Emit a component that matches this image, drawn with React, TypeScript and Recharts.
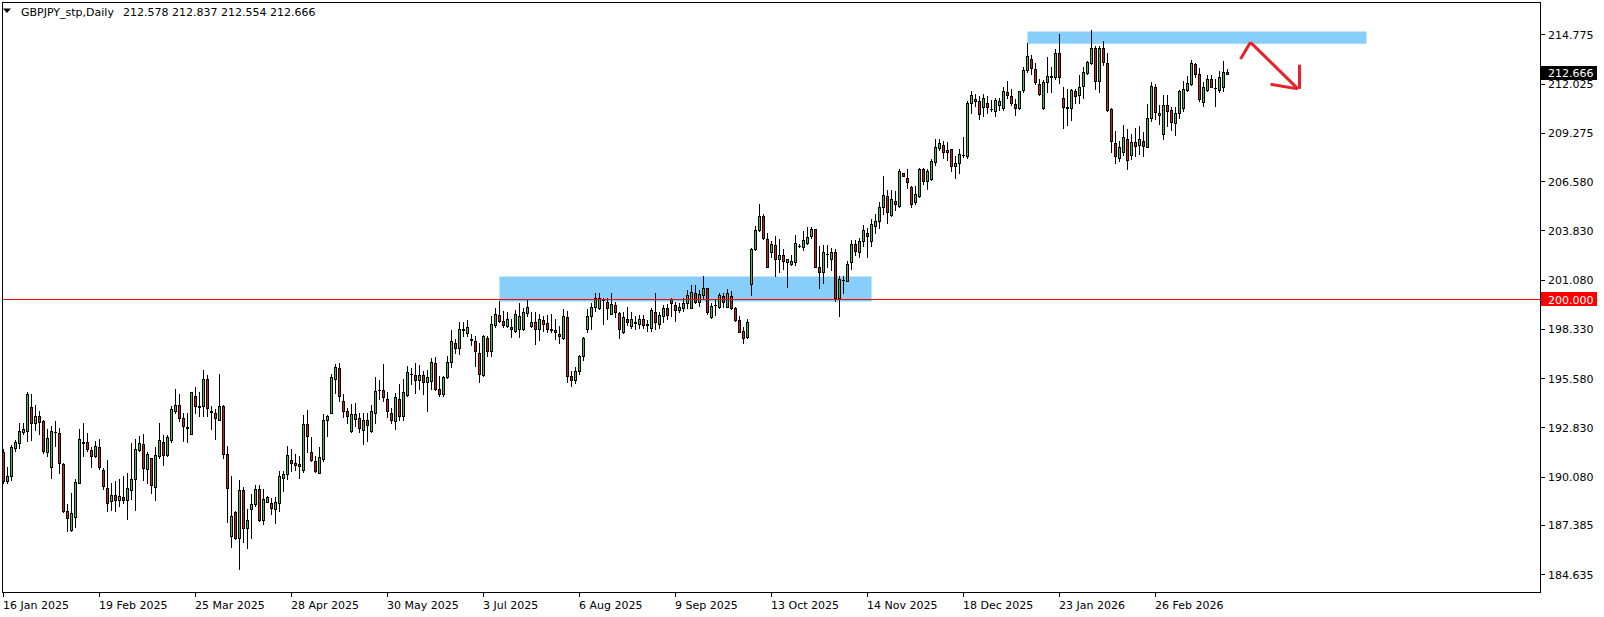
import React from 'react';
import { ComposedChart, Bar, XAxis, YAxis, ReferenceLine, ReferenceArea } from 'recharts';

const SYMBOL = 'GBPJPY_stp,Daily';

const OPEN = [
191.46,189.84,190.12,191.69,191.98,192.58,192.64,193.99,193.05,193.44,193.21,191.48,190.63,192.60,192.54,190.81,188.17,187.11,187.85,189.75,
191.97,192.04,191.56,191.24,191.76,190.44,189.43,188.71,189.03,188.75,188.93,188.75,189.34,189.94,191.56,191.93,190.53,191.10,189.53,191.21,
192.04,191.30,192.14,193.76,194.07,193.33,192.83,192.49,194.56,193.98,194.00,195.51,193.72,193.66,193.25,194.00,191.34,186.78,188.08,186.68,
189.33,187.24,188.30,188.58,189.38,187.67,188.69,188.60,188.30,188.60,190.03,190.22,191.00,190.82,190.78,190.46,193.01,191.48,190.93,190.31,
191.09,193.25,193.66,195.56,196.17,194.31,193.72,192.64,193.29,193.38,192.69,193.27,192.64,193.61,194.91,194.93,194.44,193.61,193.20,194.44,
193.48,194.63,195.83,195.74,195.47,195.74,195.34,195.40,196.40,194.97,194.69,195.66,196.51,197.52,197.24,198.26,198.09,197.76,197.65,197.01,
195.77,197.85,197.07,198.54,199.10,198.78,198.50,198.45,198.22,198.35,198.32,199.21,198.50,198.69,198.32,198.84,198.65,198.35,198.28,198.07,
197.85,198.97,195.71,195.45,196.00,196.80,198.31,199.06,199.56,199.52,199.93,199.86,199.19,199.65,199.21,198.13,198.91,198.50,198.68,198.59,
198.87,198.63,198.37,199.30,198.63,199.06,199.47,199.99,199.66,199.40,199.52,199.77,199.52,200.36,199.86,200.23,200.59,199.00,199.65,199.53,
200.14,199.58,200.14,199.49,198.85,198.22,197.89,200.83,202.78,203.88,204.61,203.34,202.60,203.00,202.22,202.45,202.04,201.94,202.04,202.96,
202.88,203.10,203.53,203.90,201.81,201.48,202.50,202.22,202.60,200.03,201.04,201.01,202.04,203.06,202.65,203.25,203.71,203.25,204.09,204.33,
205.11,205.76,204.70,205.48,205.20,207.01,206.78,206.28,205.39,205.76,207.25,206.60,206.69,207.66,208.42,208.59,208.31,208.37,207.43,207.62,
208.04,207.99,210.92,211.19,211.06,210.73,210.97,210.62,210.51,210.84,210.69,211.53,211.31,210.88,210.64,211.68,212.78,213.39,212.83,212.03,
210.64,212.09,212.42,212.37,213.71,211.25,210.73,210.69,211.62,211.38,211.90,212.61,213.15,214.04,212.18,214.01,213.20,210.60,208.70,207.90,
208.22,208.96,208.05,208.74,208.59,208.83,208.51,210.13,211.86,210.28,209.20,210.82,210.54,209.85,210.36,210.65,211.68,212.03,213.11,212.55,
211.01,211.68,212.31,211.78,211.68,211.81,212.578
];

const HIGH = [
191.61,190.64,191.84,192.11,193.06,193.05,194.78,194.68,194.07,193.75,193.25,192.73,192.91,193.21,192.78,190.85,188.54,189.19,189.94,192.73,
193.06,192.54,191.71,192.08,192.17,190.59,191.02,189.75,189.83,189.94,190.12,190.31,191.98,192.17,192.36,192.45,191.43,191.12,191.71,193.10,
192.40,192.40,194.04,194.97,194.72,193.61,193.61,194.80,195.06,194.78,196.03,195.75,194.04,193.85,195.80,194.07,191.80,190.09,188.17,189.89,
189.48,188.27,189.10,189.61,189.61,189.38,189.01,188.88,188.92,190.41,190.41,191.80,191.61,191.34,191.24,193.51,193.79,192.32,191.24,191.71,
193.57,193.51,195.84,196.36,196.45,194.69,193.89,194.13,194.22,193.63,193.66,193.63,194.07,195.62,195.47,196.36,194.78,193.89,194.74,195.24,
195.52,196.27,196.17,196.45,196.30,195.99,196.03,196.70,196.77,195.71,195.70,196.83,198.26,197.76,198.69,198.69,198.82,198.07,197.94,197.57,
197.98,197.91,199.06,199.47,199.90,199.34,199.25,198.87,199.40,199.77,199.47,199.99,199.28,199.28,199.15,199.06,199.10,199.15,198.91,198.50,
199.43,199.34,196.00,196.20,196.90,197.90,199.43,199.80,200.32,200.31,200.08,200.03,200.31,199.84,199.28,199.25,199.58,199.25,199.06,199.12,
199.12,198.84,199.47,200.33,199.25,199.66,199.71,200.08,199.84,199.80,200.08,200.51,200.77,200.77,200.51,201.29,200.64,199.80,199.93,200.31,
200.31,200.55,200.42,199.53,199.06,198.41,198.87,202.82,204.09,205.33,204.74,203.71,203.25,203.53,203.34,202.78,202.26,202.45,203.56,203.06,
203.81,204.03,204.03,203.92,202.97,203.00,203.00,202.82,202.78,201.29,201.29,202.13,203.28,203.28,203.43,204.12,203.94,204.46,204.77,205.42,
206.84,206.08,206.08,206.04,207.25,207.06,207.25,206.32,206.32,207.31,207.34,207.25,207.81,208.96,208.92,208.83,208.77,208.40,207.99,208.37,
209.02,211.06,211.62,211.44,211.34,211.47,211.34,211.10,211.21,211.25,211.81,212.15,211.75,211.16,211.62,212.96,214.29,213.63,213.15,212.27,
212.22,213.52,212.98,213.95,214.82,211.81,211.75,211.75,211.72,212.50,212.96,213.30,215.01,214.14,214.14,214.38,213.71,210.64,209.39,208.83,
209.71,209.48,209.20,209.52,209.67,209.33,210.88,212.09,212.00,210.82,211.38,211.38,210.73,210.73,211.66,212.18,212.46,213.33,213.20,212.87,
212.09,212.50,212.50,212.31,212.74,213.30,212.837
];

const LOW = [
189.71,189.71,189.88,191.52,191.69,192.45,192.08,192.11,192.69,192.49,191.41,191.24,189.99,191.80,190.31,188.08,187.05,187.05,187.28,189.71,
191.24,191.52,190.63,191.20,190.50,189.38,188.17,188.21,188.15,188.45,188.60,187.69,188.86,188.24,191.52,189.90,189.70,189.16,188.79,191.10,
190.74,191.24,192.04,193.61,193.20,192.08,192.04,192.45,193.64,193.48,193.48,193.48,192.73,192.21,193.25,191.11,187.56,186.13,186.59,184.95,
186.41,186.07,186.63,188.42,187.58,187.43,188.65,188.02,187.52,188.17,189.29,189.94,190.41,190.44,190.03,190.35,191.47,190.96,190.33,190.28,
190.96,192.36,193.63,194.74,194.28,193.42,193.05,192.60,192.92,192.58,191.89,192.08,192.60,193.07,194.41,194.28,193.42,193.07,192.73,193.25,
193.25,194.59,195.24,194.74,194.97,194.72,193.75,194.97,194.90,194.60,194.60,195.60,196.18,196.98,196.92,197.94,197.94,197.44,196.27,195.38,
195.71,196.83,196.79,198.45,198.72,198.45,198.41,197.89,198.17,197.89,198.26,199.06,198.45,197.48,197.70,198.22,198.13,198.17,197.76,197.57,
197.76,195.34,195.15,195.30,195.80,196.60,198.13,198.35,199.34,199.43,198.59,198.87,199.15,198.97,197.85,198.10,198.54,198.37,198.32,198.37,
198.37,198.22,198.22,198.35,198.37,198.69,198.87,199.06,198.78,199.28,199.34,199.52,199.47,199.80,199.62,199.99,199.15,198.93,199.12,199.47,
199.58,199.53,199.43,198.78,198.13,197.57,197.85,200.23,202.73,203.77,203.34,201.76,202.32,201.29,201.52,201.67,200.68,201.89,201.89,202.88,
202.73,203.06,203.43,201.76,200.59,200.92,201.76,201.61,199.90,199.06,200.33,200.98,201.67,202.45,202.35,202.97,202.35,202.97,203.71,203.99,
204.74,204.27,204.66,204.98,205.16,206.84,206.17,205.15,205.30,205.72,206.41,206.13,206.65,207.47,208.31,207.90,207.75,207.16,206.78,207.06,
207.94,207.90,210.41,210.78,210.04,210.23,210.41,210.47,210.23,210.54,210.54,211.25,210.82,210.28,210.60,211.57,212.65,212.55,211.99,211.38,
210.60,211.53,211.57,212.27,212.05,209.54,209.72,209.99,210.94,210.94,211.25,212.55,213.11,211.72,211.57,213.06,210.47,208.18,207.57,207.72,
208.03,207.25,207.80,208.00,208.10,208.00,208.46,209.95,210.04,209.76,208.96,209.67,209.44,209.15,210.08,210.51,211.62,211.94,212.40,211.06,
210.78,211.62,211.81,210.78,211.53,211.59,212.554
];

const CLOSE = [
189.84,190.09,191.76,192.04,192.65,192.73,194.68,193.10,193.44,193.16,191.52,192.26,192.65,192.58,190.87,188.17,187.80,188.04,189.81,192.17,
192.04,191.65,191.24,191.82,190.63,189.56,188.63,189.03,188.75,188.99,188.78,189.43,189.94,191.61,191.98,190.59,191.33,189.62,191.28,192.12,
191.30,192.27,193.85,194.07,193.33,192.92,192.80,194.78,194.04,194.04,195.56,193.89,193.70,193.33,194.00,191.34,189.42,187.89,186.68,189.33,
187.24,187.65,188.58,189.38,187.67,188.82,188.92,188.34,188.64,190.09,190.22,191.28,190.85,190.72,190.68,193.01,192.36,191.02,190.37,191.19,
193.27,193.44,195.62,196.23,194.56,193.72,193.48,193.57,193.57,192.82,193.27,192.97,193.72,194.89,194.94,194.54,193.75,193.25,194.54,193.48,
194.78,195.95,195.84,195.50,195.74,195.34,195.62,196.46,194.97,194.69,195.67,196.51,197.63,197.26,198.35,198.32,198.45,197.72,197.11,195.84,
197.91,197.07,198.63,199.15,198.78,198.56,198.91,198.30,199.19,199.06,199.25,199.58,198.73,198.35,198.91,198.63,198.35,198.26,198.17,197.91,
199.06,195.71,195.45,196.00,196.80,197.81,199.06,199.56,200.08,200.08,199.94,199.47,199.71,199.25,198.32,199.00,198.74,198.87,198.69,198.87,
198.56,198.54,199.38,198.69,199.10,199.47,199.12,199.75,199.40,199.56,199.80,200.21,200.40,199.86,200.27,200.59,199.28,199.62,199.66,200.21,
199.86,200.36,199.47,198.82,198.18,197.85,198.74,202.78,203.84,204.64,203.43,201.80,203.06,202.22,202.45,202.13,202.22,202.13,203.10,202.98,
203.28,203.47,203.90,201.81,201.48,202.60,202.54,202.63,200.03,201.14,201.05,201.98,203.06,202.69,203.25,203.84,203.53,204.18,204.33,205.16,
205.83,204.83,205.57,205.30,207.12,206.88,206.56,205.30,205.85,207.25,206.60,207.16,207.71,208.51,208.70,208.22,208.22,207.43,207.62,208.12,
208.05,210.97,211.38,211.03,210.32,211.25,210.73,210.60,211.12,211.06,211.62,211.40,210.92,210.69,211.59,212.80,213.54,212.87,212.14,211.47,
212.14,212.46,212.43,213.71,212.42,210.73,210.64,211.68,211.31,211.81,212.65,213.21,214.04,212.18,214.01,213.26,210.54,208.83,207.99,208.46,
209.07,207.75,208.79,208.55,208.96,208.55,210.13,211.90,210.45,210.41,210.84,210.51,209.89,210.41,211.59,211.75,212.05,213.17,212.59,211.16,
211.81,212.31,211.86,211.77,212.37,212.65,212.666
];

const DATE_LABELS = ['16 Jan 2025', '19 Feb 2025', '25 Mar 2025', '28 Apr 2025', '30 May 2025', '3 Jul 2025', '6 Aug 2025',
  '9 Sep 2025', '13 Oct 2025', '14 Nov 2025', '18 Dec 2025', '23 Jan 2026', '26 Feb 2026'];
const LABEL_EVERY = 24;

const PRICE_TICKS = [214.775, 212.025, 209.275, 206.580, 203.830, 201.080, 198.330, 195.580, 192.830, 190.080, 187.385, 184.635];

const LEVEL_LINE = 200.0;

// Supply / demand zones: [startBar, endBar, lowPrice, highPrice]
const ZONES = [
  { x1: 124, x2: 217, y1: 199.895, y2: 201.29 },
  { x1: 256, x2: 340.75, y1: 214.28, y2: 214.97 },
];

// Hand-drawn arrow (bar index, price)
const ARROW_PATH = [
  { x: 309.25, y: 213.43 },
  { x: 311.75, y: 214.36 },
  { x: 323.6, y: 211.76 },
];
const ARROW_HEAD = [
  [{ x: 316.75, y: 212.02 }, { x: 323.6, y: 211.76 }],
  [{ x: 324, y: 213.11 }, { x: 324, y: 211.76 }],
];

const W = 1604;
const H = 617;
const PLOT_LEFT = 2;
const PLOT_TOP = 2;
const PLOT_RIGHT = 1540;
const PLOT_BOTTOM = 592;
const FONT = 'DejaVu Sans';
const GREEN = '#2ccd2c';
const RED = '#dd1a1a';

const data = OPEN.map((o, i) => ({
  i,
  o,
  h: HIGH[i],
  l: LOW[i],
  c: CLOSE[i],
  range: [LOW[i], HIGH[i]],
}));

function Candle(props: any) {
  const { x, y, width, height, payload } = props;
  if (!payload || x == null || y == null || isNaN(y)) return null;
  const { o, h, l, c } = payload;
  const top = Math.min(y, y + height);
  const bot = Math.max(y, y + height);
  const span = h - l;
  const toY = (v: number) => (span > 0 ? top + ((h - v) / span) * (bot - top) : top);
  const col = Math.floor(x + width / 2);
  const yh = Math.floor(top);
  const yl = Math.floor(bot);
  const yo = Math.floor(toY(o));
  const yc = Math.floor(toY(c));
  const bt = Math.min(yo, yc);
  const bb = Math.max(yo, yc);
  const fill = c > o ? GREEN : c < o ? RED : '#000';
  return (
    <g>
      <rect x={col} y={yh} width={1} height={Math.max(1, yl - yh + 1)} fill="#000" />
      <rect x={col - 1} y={bt} width={3} height={bb - bt + 1} fill="#000" />
      {bb - bt >= 2 && <rect x={col} y={bt + 1} width={1} height={bb - bt - 1} fill={fill} />}
    </g>
  );
}

function XTick(props: any) {
  const { x, y, payload } = props;
  const k = Math.round(payload.value / LABEL_EVERY);
  const col = Math.floor(x);
  return (
    <g>
      <rect x={col} y={y + 1} width={1} height={4} fill="#000" />
      <text x={col} y={y + 17} fontSize={11} fontFamily={FONT} fill="#000" textAnchor="start">
        {DATE_LABELS[k]}
      </text>
    </g>
  );
}

function YTick(props: any) {
  const { x, y, payload } = props;
  return (
    <g>
      <rect x={x + 1} y={Math.floor(y)} width={4} height={1} fill="#000" />
      <text x={x + 8} y={y + 4} fontSize={11} fontFamily={FONT} fill="#000" textAnchor="start">
        {payload.value.toFixed(3)}
      </text>
    </g>
  );
}

function priceTag(value: number, bg: string) {
  return (props: any) => {
    const vb = props.viewBox || {};
    const x0 = (vb.x ?? 0) + (vb.width ?? 0) + 1;
    const yc = vb.y ?? 0;
    return (
      <g>
        <rect x={x0} y={Math.round(yc) - 7} width={56} height={14} fill={bg} />
        <text x={x0 + 7} y={yc + 4} fontSize={11} fontFamily={FONT} fill="#fff" textAnchor="start">
          {value.toFixed(3)}
        </text>
      </g>
    );
  };
}

export default function App() {
  const xDomainMin = -((3.5 - PLOT_LEFT) / 4);
  const xDomainMax = xDomainMin + (PLOT_RIGHT - PLOT_LEFT) / 4;
  const pxPerYen = 17.91;
  // place the 200.000 level exactly on a pixel row centre (y = 299.5)
  const yTop = LEVEL_LINE + (299.5 - PLOT_TOP) / pxPerYen;
  const yBottom = yTop - (PLOT_BOTTOM - PLOT_TOP) / pxPerYen;
  const last = data[data.length - 1];

  return (
    <div style={{ position: 'fixed', left: 0, top: 0, width: W, height: H, background: '#fff', overflow: 'hidden' }}>
      <ComposedChart
        width={W}
        height={H}
        data={data}
        margin={{ top: PLOT_TOP, left: PLOT_LEFT, right: 0, bottom: 0 }}
      >
        <XAxis
          dataKey="i"
          type="number"
          domain={[xDomainMin, xDomainMax]}
          allowDataOverflow
          ticks={DATE_LABELS.map((_, k) => k * LABEL_EVERY)}
          interval={0}
          tick={<XTick />}
          tickLine={false}
          axisLine={false}
          tickSize={0}
          tickMargin={0}
          height={H - PLOT_BOTTOM}
        />
        <YAxis
          orientation="right"
          type="number"
          domain={[yBottom, yTop]}
          allowDataOverflow
          ticks={PRICE_TICKS}
          interval={0}
          tick={<YTick />}
          tickLine={false}
          axisLine={false}
          tickSize={0}
          tickMargin={0}
          width={W - PLOT_RIGHT}
        />
        {ZONES.map((z, k) => (
          <ReferenceArea key={'z' + k} x1={z.x1} x2={z.x2} y1={z.y1} y2={z.y2} fill="#87CEFA" fillOpacity={1} stroke="none" ifOverflow="extendDomain" />
        ))}
        <ReferenceLine y={LEVEL_LINE} stroke="#FF0000" strokeWidth={1} label={priceTag(LEVEL_LINE, '#FF0000')} />
        <Bar dataKey="range" barSize={3} shape={(p: any) => <Candle {...p} />} isAnimationActive={false} />
        <ReferenceLine segment={[ARROW_PATH[0], ARROW_PATH[1]]} stroke="#E8212B" strokeWidth={3} />
        <ReferenceLine segment={[ARROW_PATH[1], ARROW_PATH[2]]} stroke="#E8212B" strokeWidth={3} />
        {ARROW_HEAD.map((s, k) => (
          <ReferenceLine key={'ah' + k} segment={s} stroke="#E8212B" strokeWidth={3} />
        ))}
        <ReferenceLine y={last.c} stroke="none" strokeOpacity={0} label={priceTag(last.c, '#000')} />
      </ComposedChart>
      <svg width={W} height={H} style={{ position: 'absolute', left: 0, top: 0, pointerEvents: 'none' }}>
        <rect x={PLOT_LEFT + 0.5} y={PLOT_TOP + 0.5} width={PLOT_RIGHT - PLOT_LEFT} height={PLOT_BOTTOM - PLOT_TOP} fill="none" stroke="#000" strokeWidth={1} />
        <polygon points="3,8.5 11,8.5 7,13" fill="#000" />
        <text x={21} y={16} fontSize={11} fontFamily={FONT} fill="#000">{SYMBOL}</text>
        <text x={123} y={16} fontSize={11} fontFamily={FONT} fill="#000">
          {[last.o, last.h, last.l, last.c].map((v) => v.toFixed(3)).join(' ')}
        </text>
      </svg>
    </div>
  );
}
